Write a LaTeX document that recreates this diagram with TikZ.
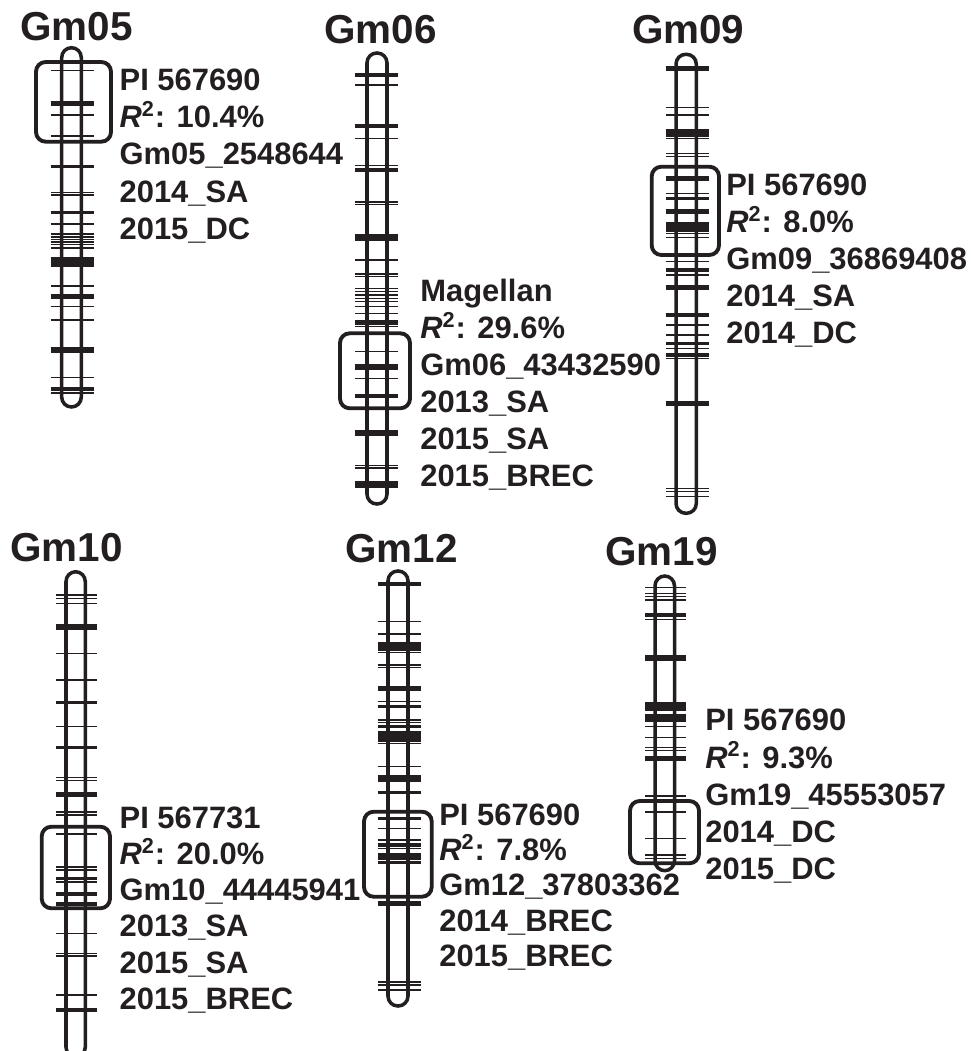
\documentclass[tikz,border=0pt]{standalone}
\usepackage{fontspec}
\setmainfont{Liberation Sans}
\usetikzlibrary{positioning}
\definecolor{Ink}{HTML}{231F20}

\begin{document}
\begin{tikzpicture}[x=0.02cm,y=-0.02cm,
        chrom/.style={draw=Ink,line width=2pt,rounded corners=5.6pt},
        qbox/.style={draw=Ink,line width=2.2pt,rounded corners=5.5pt},
        title/.style={anchor=base west,inner sep=0pt,text=Ink,font=\bfseries\fontsize{23}{26}\selectfont},
        lbl/.style={anchor=base west,inner sep=0pt,text=Ink,font=\bfseries\fontsize{17.6}{21}\selectfont}]
  \useasboundingbox (0,0) rectangle (970,1051);

  % Gm05
  \foreach \y/\w in {70.7/.9,103.3/2.8,115/.9,136/.9,166.7/1.9,192.7/.9,195/.9,212.7/1.6,224/.9,
      234/.9,237/.9,239.5/.9,242/.9,244.5/.9,248/.9,258/.9,261/2.8,264.5/2.8,286/.9,296.7/2.8,
      306.7/.9,320/.9,350/3,377.7/.9,389/2.8,393/.9}
    \draw[Ink,line width=\w pt] (50.5,\y) -- (93.5,\y);
  \draw[chrom] (61.7,47.7) rectangle (81.3,407);
  \draw[qbox] (36,62) rectangle (111,141.7);
  \node[title] (t05) at (20,40.7) {Gm05};
  \foreach \txt [count=\i] in {{PI 567690},{\textit{R}\textsuperscript{2}: 10.4\%},{Gm05\_2548644},{2014\_SA},{2015\_DC}}
    \node[lbl] (l05-\i) at (119.3,{90.7+(\i-1)*37.1}) {\txt};

  % Gm06
  \foreach \y/\w in {75/2.8,85/.9,126/2.8,138.3/.9,165.7/.9,170/2.8,202/.9,204.7/.9,236.7/2.8,240/.9,
      260/1.6,274/.9,276.5/.9,288.3/.9,291.7/.9,295/.9,298.3/.9,301.7/.9,306.7/.9,313.3/.9,322.3/2.8,
      326.7/.9,351.7/.9,366.7/3.2,378.3/.9,396/1.9,433.3/3.2,465.5/.9,468/.9,483.3/2.8,487/.9}
    \draw[Ink,line width=\w pt] (355,\y) -- (398,\y);
  \draw[chrom] (367,53) rectangle (387,504);
  \draw[qbox] (340,333.3) rectangle (410,408.3);
  \node[title] (t06) at (324,43.3) {Gm06};
  \foreach \txt [count=\i] in {{Magellan},{\textit{R}\textsuperscript{2}: 29.6\%},{Gm06\_43432590},{2013\_SA},{2015\_SA},{2015\_BREC}}
    \node[lbl] (l06-\i) at (420,{301.7+(\i-1)*36.9}) {\txt};

  % Gm09
  \foreach \y/\w in {68.3/2.8,107.3/.9,115/.9,131.7/2.8,135/2.8,138.3/.9,153.3/.9,156.7/.9,178.3/2.8,
      193.3/.9,198.3/1.9,211.7/2.8,224/2.8,226.7/2.8,229.3/2.8,233.3/.9,237.7/.9,261.7/.9,270/1.9,
      275/.9,287.3/2.8,315/1.9,325/.9,335/.9,343.3/1.9,348.3/.9,355/2.8,358.3/.9,403.3/2.8,
      488.3/.9,491.7/.9,496.7/.9}
    \draw[Ink,line width=\w pt] (665.5,\y) -- (708.5,\y);
  \draw[chrom] (676,54.3) rectangle (696.3,513.3);
  \draw[qbox] (651.7,166.7) rectangle (719,255);
  \node[title] (t09) at (631.7,43.3) {Gm09};
  \foreach \txt [count=\i] in {{PI 567690},{\textit{R}\textsuperscript{2}: 8.0\%},{Gm09\_36869408},{2014\_SA},{2014\_DC}}
    \node[lbl] (l09-\i) at (726,{195+(\i-1)*37.1}) {\txt};

  % Gm10
  \foreach \y/\w in {595/.9,598.3/.9,603.3/.9,626.7/3.2,653.3/.9,680/.9,702.7/1.9,726.7/.9,747.7/1.9,
      777.3/.9,780.7/.9,793.3/1.9,796/.9,811.7/.9,815/.9,834/.9,866.7/.9,870/.9,878.3/1.9,881.7/.9,
      892.7/.9,895/.9,904/2.8,933.3/.9,953.3/.9,956/.9,995/.9,1010/2.8}
    \draw[Ink,line width=\w pt] (56,\y) -- (97,\y);
  \draw[chrom] (66,571.7) rectangle (85.3,1057);
  \draw[qbox] (41.7,826.7) rectangle (110,908.3);
  \node[title] (t10) at (10,561.7) {Gm10};
  \foreach \txt [count=\i] in {{PI 567731},{\textit{R}\textsuperscript{2}: 20.0\%},{Gm10\_44445941},{2013\_SA},{2015\_SA},{2015\_BREC}}
    \node[lbl] (l10-\i) at (119.3,{828.3+(\i-1)*36.2}) {\txt};

  % Gm12
  \foreach \y/\w in {584/2.8,621.7/.9,634/.9,644/2.8,648.3/2.8,652.7/.9,665/.9,667.7/.9,688.3/2.8,
      701.7/.9,706.7/1.9,720/.9,722.7/.9,726.7/1.9,733.3/2.8,736.7/2.8,740/2.8,743.3/.9,766.7/.9,
      776.7/1.9,780/1.9,792.7/1.9,818.3/1.9,828.3/.9,840/.9,845/1.9,848.3/.9,855/1.9,858.3/1.9,
      862.7/1.9,903.3/2.8,981.7/.9,985/.9,990/.9}
    \draw[Ink,line width=\w pt] (377.5,\y) -- (420.5,\y);
  \draw[chrom] (388,571) rectangle (408,1006);
  \draw[qbox] (364,811.7) rectangle (431.7,896.7);
  \node[title] (t12) at (345,562.7) {Gm12};
  \foreach \txt [count=\i] in {{PI 567690},{\textit{R}\textsuperscript{2}: 7.8\%},{Gm12\_37803362},{2014\_BREC},{2015\_BREC}}
    \node[lbl] (l12-\i) at (439,{825+(\i-1)*35.4}) {\txt};

  % Gm19
  \foreach \y/\w in {587.3/.9,593.3/.9,596.7/.9,600/.9,615/2.8,619.3/.9,658.3/3.2,704/2.8,708.3/2.8,
      716/2.8,719.3/2.8,726.7/.9,737.3/.9,747.3/.9,750.7/.9,758.3/2.8,796/.9,811.7/.9,838.3/.9,
      855/.9,858.3/.9}
    \draw[Ink,line width=\w pt] (645,\y) -- (686,\y);
  \draw[chrom] (655,576) rectangle (674.5,870.7);
  \draw[qbox] (630,801) rectangle (699,863.3);
  \node[title] (t19) at (605,565) {Gm19};
  \foreach \txt [count=\i] in {{PI 567690},{\textit{R}\textsuperscript{2}: 9.3\%},{Gm19\_45553057},{2014\_DC},{2015\_DC}}
    \node[lbl] (l19-\i) at (705,{730.7+(\i-1)*37.3}) {\txt};
\end{tikzpicture}
\end{document}
